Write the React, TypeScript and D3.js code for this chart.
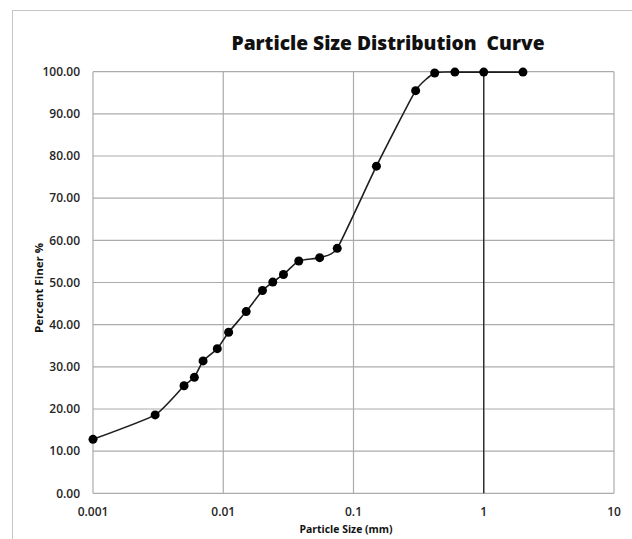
import React from "react";
import * as d3 from "d3";

const sizes = [0.001, 0.003, 0.005, 0.006, 0.007, 0.009, 0.011, 0.015, 0.02, 0.024, 0.029, 0.038, 0.055, 0.075, 0.15, 0.3, 0.42, 0.6, 1, 2];
const finer = [12.8, 18.6, 25.5, 27.5, 31.4, 34.3, 38.2, 43.1, 48.1, 50.1, 51.9, 55.1, 55.9, 58.1, 77.6, 95.5, 99.7, 99.9, 99.9, 99.9];
const xTicks = [0.001, 0.01, 0.1, 1, 10];
const xTickLabels = ["0.001", "0.01", "0.1", "1", "10"];
const yTicks = [0, 10, 20, 30, 40, 50, 60, 70, 80, 90, 100];
const markerLine = [1];

const W = 632;
const H = 539;
const left = 93, right = 614, top = 71.7, bottom = 493.3;
const FONT = "'Open Sans', 'Noto Sans', sans-serif";

export default function App() {
  const x = d3.scaleLog().domain([0.001, 10]).range([left, right]);
  const y = d3.scaleLinear().domain([0, 100]).range([bottom, top]);
  const pts: [number, number][] = sizes.map((s, i) => [x(s), y(finer[i])]);
  const path = d3.line().curve(d3.curveCardinal.tension(0.5))(pts) || "";
  const grid = "#ababab";
  return (
    <svg width={W} height={H} style={{ position: "absolute", left: 0, top: 0, background: "#fff" }}>
      <rect x={0} y={0} width={W} height={H} fill="#fff" />
      <rect x={12.5} y={10.5} width={W + 10} height={H + 10} fill="none" stroke="#c4c4c4" strokeWidth={1} />
      {yTicks.map((t) => (
        <line key={"gy" + t} x1={left} x2={right} y1={y(t)} y2={y(t)} stroke={grid} strokeWidth={1.2} />
      ))}
      {xTicks.map((t) => (
        <line key={"gx" + t} x1={x(t)} x2={x(t)} y1={top} y2={bottom} stroke={grid} strokeWidth={1.2} />
      ))}
      {markerLine.map((t) => (
        <line key={"ml" + t} x1={x(t)} x2={x(t)} y1={y(0)} y2={y(100)} stroke="#222" strokeWidth={1.3} />
      ))}
      {yTicks.map((t) => (
        <text key={"ty" + t} x={80} y={y(t) + 4.3} textAnchor="end" fontFamily={FONT} fontSize={12} fontWeight={600} fill="#262626">
          {t.toFixed(2)}
        </text>
      ))}
      {xTicks.map((t, i) => (
        <text key={"tx" + t} x={x(t)} y={515.5} textAnchor="middle" fontFamily={FONT} fontSize={12} fontWeight={600} fill="#262626">
          {xTickLabels[i]}
        </text>
      ))}
      <path d={path} fill="none" stroke="#1e1e1e" strokeWidth={1.6} />
      {pts.map((p, i) => (
        <circle key={"c" + i} cx={p[0]} cy={p[1]} r={4.5} fill="#000" />
      ))}
      <text x={388} y={50} textAnchor="middle" fontFamily={FONT} fontSize={20} fontWeight={800} fill="#111" textLength={313} lengthAdjust="spacingAndGlyphs" style={{ whiteSpace: "pre" }}>
        {"Particle Size Distribution  Curve"}
      </text>
      <text x={346} y={533} textAnchor="middle" fontFamily={FONT} fontSize={11} fontWeight={700} fill="#111" textLength={93} lengthAdjust="spacingAndGlyphs">
        Particle Size (mm)
      </text>
      <text transform="translate(42.5,288) rotate(-90)" textAnchor="middle" fontFamily={FONT} fontSize={11} fontWeight={700} fill="#111" textLength={90} lengthAdjust="spacingAndGlyphs">
        Percent Finer %
      </text>
    </svg>
  );
}
